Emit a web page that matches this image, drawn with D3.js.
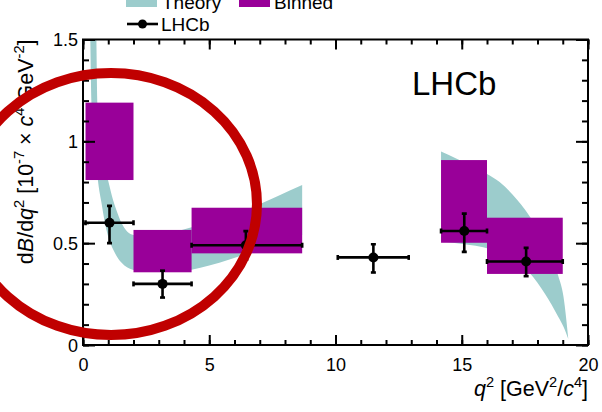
<!DOCTYPE html>
<html>
<head>
<meta charset="utf-8">
<script src="https://cdn.jsdelivr.net/npm/d3@7"></script>
<style>
  body { margin: 0; background: #fff; }
  svg { display: block; }
  text { font-family: "Liberation Sans", Arial, Helvetica, sans-serif; fill: #000; }
</style>
</head>
<body>
<svg id="chart" width="602" height="412"></svg>
<script>
// ---- Binned prediction (q^2 bins, min/max of the box) ----
const binLow  = [0.1, 2.0, 4.3, 14.18, 16.0];
const binHigh = [2.0, 4.3, 8.68, 16.0, 19.0];
const binMin  = [0.81, 0.357, 0.45, 0.502, 0.349];
const binMax  = [1.19, 0.565, 0.674, 0.908, 0.625];

// ---- LHCb measurement ----
const lhcbQ2      = [1.05, 3.15, 6.45, 11.5, 15.1, 17.55];
const lhcbQ2Low   = [0.1, 2.0, 4.3, 10.09, 14.18, 16.0];
const lhcbQ2High  = [2.0, 4.3, 8.68, 12.9, 16.0, 19.0];
const lhcbValue   = [0.60, 0.30, 0.49, 0.43, 0.56, 0.41];
const lhcbErrUp   = [0.083, 0.065, 0.069, 0.065, 0.085, 0.067];
const lhcbErrDown = [0.100, 0.067, 0.070, 0.074, 0.103, 0.072];

// ---- Theory band, low-q^2 region ----
const theoryLowQ2  = [0.24, 0.29, 0.33, 0.40, 0.48, 0.53, 0.56, 0.62, 0.73, 0.86, 0.99, 1.19, 1.39, 1.52, 2.0, 2.5, 3.0, 3.6, 4.3, 5.0, 5.8, 6.68, 7.7, 8.68];
const theoryLowMin = [2.10, 1.50, 1.20, 1.04, 0.92, 0.865, 0.84, 0.78, 0.70, 0.605, 0.535, 0.47, 0.425, 0.405, 0.368, 0.36, 0.358, 0.36, 0.37, 0.39, 0.42, 0.455, 0.495, 0.54];
const theoryLowMax = [4.00, 3.30, 2.80, 2.20, 1.75, 1.50, 1.22, 1.06, 0.95, 0.87, 0.81, 0.712, 0.64, 0.60, 0.54, 0.535, 0.54, 0.555, 0.578, 0.60, 0.635, 0.674, 0.73, 0.785];

// ---- Theory band, high-q^2 region ----
const theoryHighQ2  = [14.18, 14.8, 15.4, 16.0, 16.5, 17.0, 17.7, 18.3, 18.82, 19.03, 19.22];
const theoryHighMin = [0.51, 0.50, 0.49, 0.475, 0.45, 0.42, 0.352, 0.25, 0.139, 0.09, 0.03];
const theoryHighMax = [0.95, 0.915, 0.88, 0.84, 0.80, 0.74, 0.63, 0.50, 0.34, 0.237, 0.03];

// ---- Axis ticks ----
const xMajorTicks = [0, 5, 10, 15, 20];
const xTickLabels = ["0", "5", "10", "15", "20"];
const yMajorTicks = [0, 0.5, 1, 1.5];
const yTickLabels = ["0", "0.5", "1", "1.5"];
const xMinorTicks = d3.range(0, 20.001, 1);
const yMinorTicks = d3.range(0, 1.5001, 0.1);

// ---- Highlight ellipse (data units) ----
const ringCenter = [1.11, 0.692];
const ringRadius = [5.78, 0.643];

const svg = d3.select("#chart");
const frame = { left: 83, right: 588, top: 39.5, bottom: 345 };

const x = d3.scaleLinear().domain([0, 20]).range([frame.left, frame.right]);
const y = d3.scaleLinear().domain([0, 1.5]).range([frame.bottom, frame.top]);

svg.append("defs").append("clipPath").attr("id", "plotClip")
  .append("rect")
  .attr("x", frame.left).attr("y", frame.top)
  .attr("width", frame.right - frame.left).attr("height", frame.bottom - frame.top);

const plot = svg.append("g").attr("clip-path", "url(#plotClip)");

// theory band
const band = d3.area()
  .x(d => x(d.q2))
  .y0(d => y(d.lo))
  .y1(d => y(d.hi))
  .curve(d3.curveMonotoneX);

const theorySegments = [
  theoryLowQ2.map((q, i) => ({ q2: q, lo: theoryLowMin[i], hi: theoryLowMax[i] })),
  theoryHighQ2.map((q, i) => ({ q2: q, lo: theoryHighMin[i], hi: theoryHighMax[i] }))
];
plot.selectAll("path.theory").data(theorySegments).join("path")
  .attr("class", "theory")
  .attr("d", band)
  .attr("fill", "#9ccccc");

// binned boxes
plot.selectAll("rect.bin").data(binLow.map((lo, i) => i)).join("rect")
  .attr("class", "bin")
  .attr("x", i => x(binLow[i]))
  .attr("width", i => x(binHigh[i]) - x(binLow[i]))
  .attr("y", i => y(binMax[i]))
  .attr("height", i => y(binMin[i]) - y(binMax[i]))
  .attr("fill", "#990099");

// LHCb points with error bars
const pts = plot.append("g").attr("stroke", "#000").attr("stroke-width", 2.6);
const idx = lhcbQ2.map((q, i) => i);
const cap = 2.5;
pts.selectAll("line.xerr").data(idx).join("line")
  .attr("x1", i => x(lhcbQ2Low[i])).attr("x2", i => x(lhcbQ2High[i]))
  .attr("y1", i => y(lhcbValue[i])).attr("y2", i => y(lhcbValue[i]));
pts.selectAll("line.yerr").data(idx).join("line")
  .attr("x1", i => x(lhcbQ2[i])).attr("x2", i => x(lhcbQ2[i]))
  .attr("y1", i => y(lhcbValue[i] + lhcbErrUp[i])).attr("y2", i => y(lhcbValue[i] - lhcbErrDown[i]));
// end caps
idx.forEach(i => {
  const cx = x(lhcbQ2[i]), cy = y(lhcbValue[i]);
  [y(lhcbValue[i] + lhcbErrUp[i]), y(lhcbValue[i] - lhcbErrDown[i])].forEach(yy =>
    pts.append("line").attr("x1", cx - cap).attr("x2", cx + cap).attr("y1", yy).attr("y2", yy));
  [x(lhcbQ2Low[i]), x(lhcbQ2High[i])].forEach(xx =>
    pts.append("line").attr("x1", xx).attr("x2", xx).attr("y1", cy - cap).attr("y2", cy + cap));
});
plot.selectAll("circle.pt").data(idx).join("circle")
  .attr("class", "pt")
  .attr("cx", i => x(lhcbQ2[i])).attr("cy", i => y(lhcbValue[i]))
  .attr("r", 5).attr("fill", "#000");

// axes: ticks point into the frame
function styleAxis(g) {
  g.select(".domain").remove();
  g.selectAll(".tick line").attr("stroke", "#000").attr("stroke-width", 2);
  g.selectAll("text").style("font-family", null).attr("font-size", 18);
}
const addAxis = (axis, tx, ty) => svg.append("g").attr("transform", `translate(${tx},${ty})`).call(axis).call(styleAxis);

addAxis(d3.axisBottom(x).tickValues(xMinorTicks).tickSize(-5).tickSizeOuter(0).tickFormat(""), 0, frame.bottom);
addAxis(d3.axisTop(x).tickValues(xMinorTicks).tickSize(-5).tickSizeOuter(0).tickFormat(""), 0, frame.top);
addAxis(d3.axisTop(x).tickValues(xMajorTicks).tickSize(-10).tickSizeOuter(0).tickFormat(""), 0, frame.top);
const xAxis = addAxis(d3.axisBottom(x).tickValues(xMajorTicks).tickSize(-10).tickSizeOuter(0)
  .tickFormat((d, i) => xTickLabels[i]), 0, frame.bottom);
xAxis.selectAll("text").attr("y", 26).attr("dy", null);

addAxis(d3.axisLeft(y).tickValues(yMinorTicks).tickSize(-6).tickSizeOuter(0).tickFormat(""), frame.left, 0);
addAxis(d3.axisRight(y).tickValues(yMinorTicks).tickSize(-6).tickSizeOuter(0).tickFormat(""), frame.right, 0);
addAxis(d3.axisRight(y).tickValues(yMajorTicks).tickSize(-12).tickSizeOuter(0).tickFormat(""), frame.right, 0);
const yAxis = addAxis(d3.axisLeft(y).tickValues(yMajorTicks).tickSize(-12).tickSizeOuter(0).tickPadding(5)
  .tickFormat((d, i) => yTickLabels[i]), frame.left, 0);
yAxis.selectAll("text").attr("dy", "0.35em");

// frame
svg.append("rect")
  .attr("x", frame.left).attr("y", frame.top)
  .attr("width", frame.right - frame.left).attr("height", frame.bottom - frame.top)
  .attr("fill", "none").attr("stroke", "#000").attr("stroke-width", 2);

// rich text helper: italic parts and superscripts
function richText(textSel, parts, size) {
  const supSize = size * 0.68, lift = size * 0.42;
  let raised = false;
  parts.forEach(p => {
    const t = textSel.append("tspan").text(p.t);
    if (p.it) t.attr("font-style", "italic");
    if (p.sup) {
      t.attr("font-size", supSize);
      if (!raised) { t.attr("dy", -lift); raised = true; }
    } else {
      t.attr("font-size", size);
      if (raised) { t.attr("dy", lift); raised = false; }
    }
  });
}

// axis titles
const xTitle = svg.append("text").attr("x", frame.right).attr("y", 396).attr("text-anchor", "end");
richText(xTitle, [{ t: "q", it: true }, { t: "2", sup: true }, { t: " [GeV" }, { t: "2", sup: true },
  { t: "/" }, { t: "c", it: true }, { t: "4", sup: true }, { t: "]" }], 21.5);

const yTitle = svg.append("text").attr("text-anchor", "end")
  .attr("transform", `translate(33,${frame.top}) rotate(-90)`);
richText(yTitle, [{ t: "d" }, { t: "B", it: true }, { t: "/d" }, { t: "q", it: true }, { t: "2", sup: true },
  { t: " [10" }, { t: "-7", sup: true }, { t: " × " }, { t: "c", it: true }, { t: "4", sup: true },
  { t: " GeV" }, { t: "-2", sup: true }, { t: "]" }], 21.5);

// experiment label
svg.append("text").attr("x", 412).attr("y", 95).attr("font-size", 33).text("LHCb");

// legend
const legend = svg.append("g");
legend.append("rect").attr("x", 126).attr("y", -4).attr("width", 31).attr("height", 11).attr("fill", "#9ccccc");
legend.append("text").attr("x", 162).attr("y", 8.5).attr("font-size", 19).text("Theory");
legend.append("rect").attr("x", 239).attr("y", -4).attr("width", 31).attr("height", 11).attr("fill", "#990099");
legend.append("text").attr("x", 274).attr("y", 8.5).attr("font-size", 19).text("Binned");
legend.append("line").attr("x1", 127).attr("x2", 158).attr("y1", 24).attr("y2", 24)
  .attr("stroke", "#000").attr("stroke-width", 2.6);
legend.append("circle").attr("cx", 142.5).attr("cy", 24).attr("r", 4.5).attr("fill", "#000");
legend.append("text").attr("x", 161).attr("y", 31).attr("font-size", 19).text("LHCb");

// highlight ring
svg.append("ellipse")
  .attr("cx", x(ringCenter[0])).attr("cy", y(ringCenter[1]))
  .attr("rx", x(ringRadius[0]) - x(0)).attr("ry", y(0) - y(ringRadius[1]))
  .attr("fill", "none").attr("stroke", "#c00000").attr("stroke-width", 10);
</script>
</body>
</html>
